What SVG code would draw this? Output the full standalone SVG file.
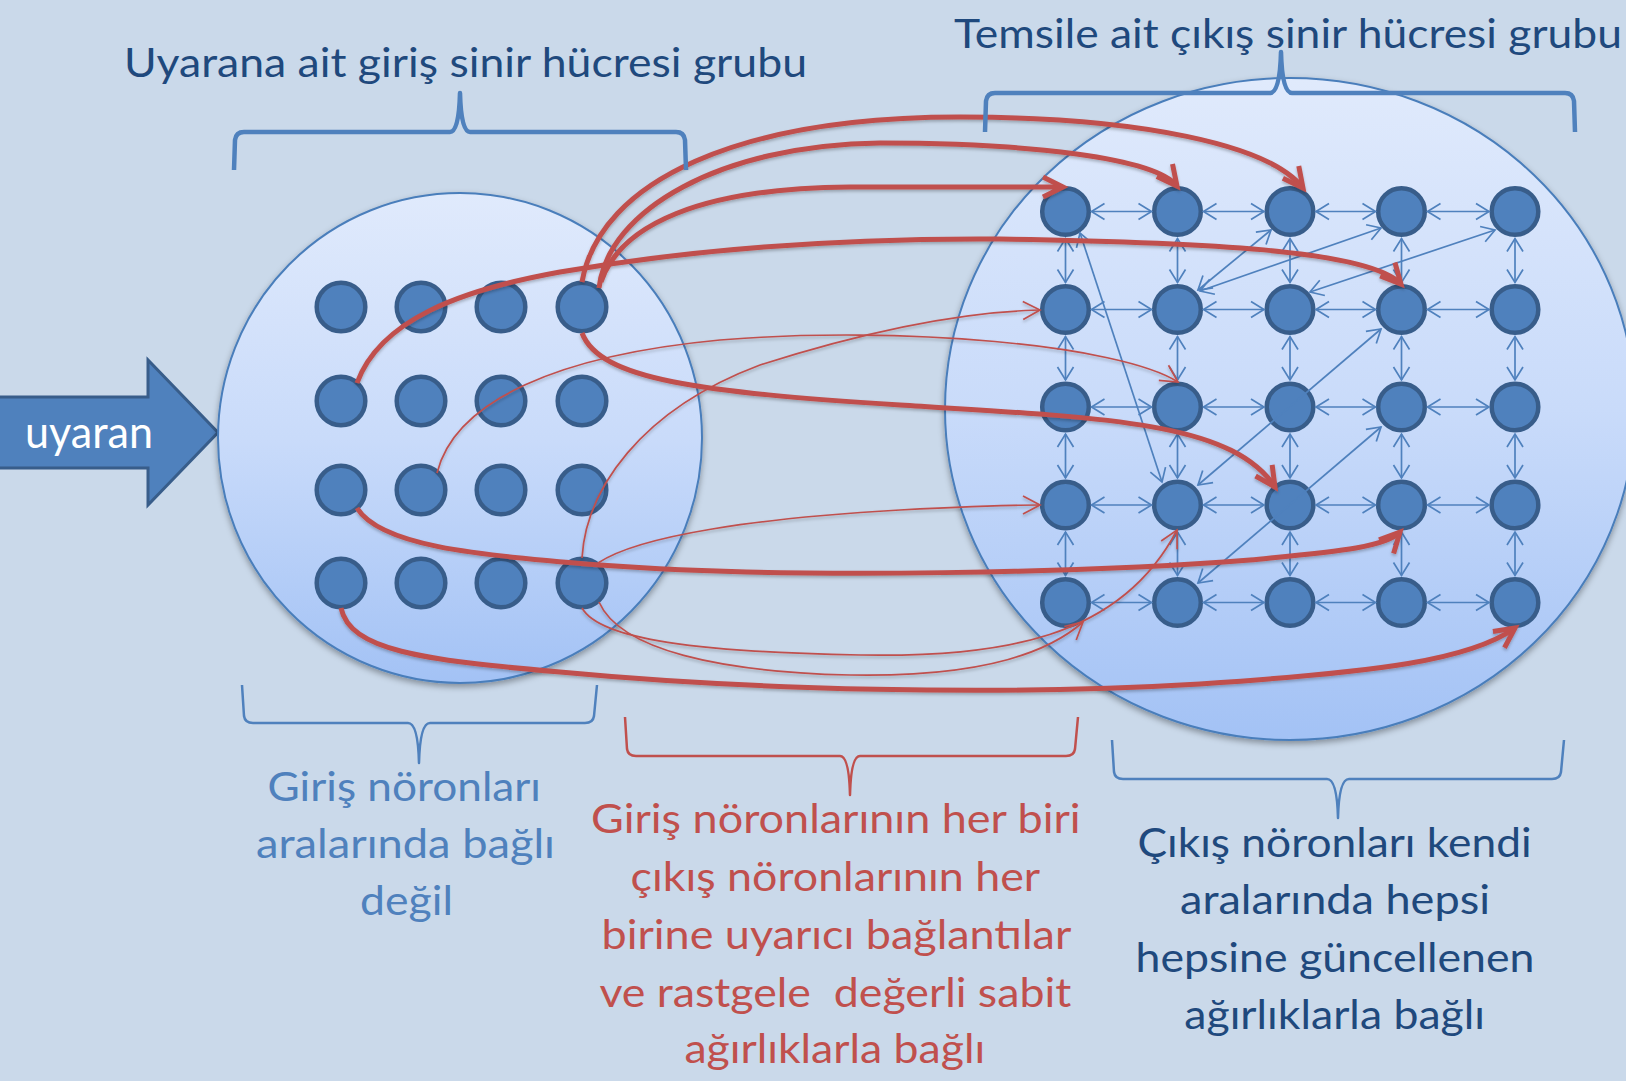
<svg xmlns="http://www.w3.org/2000/svg" width="1626" height="1081" viewBox="0 0 1626 1081">
  <style>
    .bg { fill: #cad9ea; }
    .pool { stroke: #4a7ebb; stroke-width: 2; filter: url(#softShadow); }
    .node { fill: #4f81bd; stroke: #385d8a; stroke-width: 4.5; }
    .grid { stroke: #4f81bd; stroke-width: 1.7; fill: none; marker-start: url(#headBlue); marker-end: url(#headBlue); }
    .thick { stroke: #c0504d; stroke-width: 5; fill: none; marker-end: url(#headRedThick); }
    .thin { stroke: #c0504d; stroke-width: 1.7; fill: none; marker-end: url(#headRedThin); }
    .brace-top { stroke: #4f81bd; stroke-width: 4.5; fill: none; stroke-linejoin: round; }
    .brace-low { stroke: #4f81bd; stroke-width: 2.5; fill: none; stroke-linejoin: round; }
    .brace-red { stroke: #c0504d; stroke-width: 2.5; fill: none; stroke-linejoin: round; }
    text { font-family: Lato, "Open Sans", "Noto Sans", sans-serif; }
    .title { fill: #1f497d; font-size: 41px; }
    .note { font-size: 40px; }
    .blue { fill: #4f81bd; }
    .red { fill: #c0504d; }
    .navy { fill: #1f497d; }
  </style>
  <defs>
    <linearGradient id="poolFill" x1="0" y1="0" x2="0" y2="1">
      <stop offset="0" stop-color="#e0eafc"/>
      <stop offset="0.5" stop-color="#c9dbfa"/>
      <stop offset="1" stop-color="#a3c2f5"/>
    </linearGradient>
    <filter id="softShadow" x="-10%" y="-10%" width="120%" height="125%">
      <feDropShadow dx="0" dy="3" stdDeviation="3" flood-color="#000" flood-opacity="0.35"/>
    </filter>
    <filter id="lineShadow" x="-5%" y="-5%" width="110%" height="115%">
      <feDropShadow dx="0" dy="2" stdDeviation="1.5" flood-color="#000" flood-opacity="0.25"/>
    </filter>
    <marker id="headBlue" markerUnits="userSpaceOnUse" orient="auto-start-reverse" overflow="visible" markerWidth="1" markerHeight="1" refX="0" refY="0">
      <path d="M-13,-8 L0,0 L-13,8" fill="none" stroke="#4f81bd" stroke-width="1.7"/>
    </marker>
    <marker id="headRedThick" markerUnits="userSpaceOnUse" orient="auto" overflow="visible" markerWidth="1" markerHeight="1" refX="0" refY="0">
      <path d="M-20,-10 L0,0 L-20,10" fill="none" stroke="#c0504d" stroke-width="5"/>
    </marker>
    <marker id="headRedThin" markerUnits="userSpaceOnUse" orient="auto" overflow="visible" markerWidth="1" markerHeight="1" refX="0" refY="0">
      <path d="M-17,-9 L0,0 L-17,9" fill="none" stroke="#c0504d" stroke-width="1.7"/>
    </marker>
  </defs>

  <rect class="bg" x="0" y="0" width="1626" height="1081"/>

  <!-- stimulus arrow -->
  <g id="stimulus">
    <polygon points="-5,397 148,397 148,360 218,432.5 148,505 148,468 -5,468" fill="#4f81bd" stroke="#385d8a" stroke-width="3"/>
    <text x="25" y="448" fill="#ffffff" font-size="44" textLength="128" lengthAdjust="spacingAndGlyphs">uyaran</text>
  </g>

  <!-- neuron pools -->
  <g id="input-pool">
    <ellipse class="pool" cx="460" cy="438" rx="242" ry="245" fill="url(#poolFill)"/>
  </g>
  <g id="output-pool">
    <ellipse class="pool" cx="1290" cy="409" rx="345" ry="331" fill="url(#poolFill)"/>
  </g>

  <!-- input neurons (4 x 4) -->
  <g id="in-r1c1"><circle class="node" cx="341" cy="307" r="24.3"/></g>
  <g id="in-r1c2"><circle class="node" cx="421" cy="307" r="24.3"/></g>
  <g id="in-r1c3"><circle class="node" cx="501" cy="307" r="24.3"/></g>
  <g id="in-r1c4"><circle class="node" cx="582" cy="307" r="24.3"/></g>
  <g id="in-r2c1"><circle class="node" cx="341" cy="401" r="24.3"/></g>
  <g id="in-r2c2"><circle class="node" cx="421" cy="401" r="24.3"/></g>
  <g id="in-r2c3"><circle class="node" cx="501" cy="401" r="24.3"/></g>
  <g id="in-r2c4"><circle class="node" cx="582" cy="401" r="24.3"/></g>
  <g id="in-r3c1"><circle class="node" cx="341" cy="490" r="24.3"/></g>
  <g id="in-r3c2"><circle class="node" cx="421" cy="490" r="24.3"/></g>
  <g id="in-r3c3"><circle class="node" cx="501" cy="490" r="24.3"/></g>
  <g id="in-r3c4"><circle class="node" cx="582" cy="490" r="24.3"/></g>
  <g id="in-r4c1"><circle class="node" cx="341" cy="583" r="24.3"/></g>
  <g id="in-r4c2"><circle class="node" cx="421" cy="583" r="24.3"/></g>
  <g id="in-r4c3"><circle class="node" cx="501" cy="583" r="24.3"/></g>
  <g id="in-r4c4"><circle class="node" cx="582" cy="583" r="24.3"/></g>

  <!-- output neurons (5 x 5) -->
  <g id="out-r1c1"><circle class="node" cx="1065.5" cy="211.5" r="23.3"/></g>
  <g id="out-r1c2"><circle class="node" cx="1177.5" cy="211.5" r="23.3"/></g>
  <g id="out-r1c3"><circle class="node" cx="1290" cy="211.5" r="23.3"/></g>
  <g id="out-r1c4"><circle class="node" cx="1401.5" cy="211.5" r="23.3"/></g>
  <g id="out-r1c5"><circle class="node" cx="1515" cy="211.5" r="23.3"/></g>
  <g id="out-r2c1"><circle class="node" cx="1065.5" cy="309.5" r="23.3"/></g>
  <g id="out-r2c2"><circle class="node" cx="1177.5" cy="309.5" r="23.3"/></g>
  <g id="out-r2c3"><circle class="node" cx="1290" cy="309.5" r="23.3"/></g>
  <g id="out-r2c4"><circle class="node" cx="1401.5" cy="309.5" r="23.3"/></g>
  <g id="out-r2c5"><circle class="node" cx="1515" cy="309.5" r="23.3"/></g>
  <g id="out-r3c1"><circle class="node" cx="1065.5" cy="407" r="23.3"/></g>
  <g id="out-r3c2"><circle class="node" cx="1177.5" cy="407" r="23.3"/></g>
  <g id="out-r3c3"><circle class="node" cx="1290" cy="407" r="23.3"/></g>
  <g id="out-r3c4"><circle class="node" cx="1401.5" cy="407" r="23.3"/></g>
  <g id="out-r3c5"><circle class="node" cx="1515" cy="407" r="23.3"/></g>
  <g id="out-r4c1"><circle class="node" cx="1065.5" cy="505" r="23.3"/></g>
  <g id="out-r4c2"><circle class="node" cx="1177.5" cy="505" r="23.3"/></g>
  <g id="out-r4c3"><circle class="node" cx="1290" cy="505" r="23.3"/></g>
  <g id="out-r4c4"><circle class="node" cx="1401.5" cy="505" r="23.3"/></g>
  <g id="out-r4c5"><circle class="node" cx="1515" cy="505" r="23.3"/></g>
  <g id="out-r5c1"><circle class="node" cx="1065.5" cy="602.5" r="23.3"/></g>
  <g id="out-r5c2"><circle class="node" cx="1177.5" cy="602.5" r="23.3"/></g>
  <g id="out-r5c3"><circle class="node" cx="1290" cy="602.5" r="23.3"/></g>
  <g id="out-r5c4"><circle class="node" cx="1401.5" cy="602.5" r="23.3"/></g>
  <g id="out-r5c5"><circle class="node" cx="1515" cy="602.5" r="23.3"/></g>

  <g id="connectors">
    <!-- lateral links between output neurons: rows -->
    <g id="lateral-rows">
      <line class="grid" x1="1091.5" y1="211.5" x2="1151.5" y2="211.5"/>
      <line class="grid" x1="1203.5" y1="211.5" x2="1264" y2="211.5"/>
      <line class="grid" x1="1316" y1="211.5" x2="1375.5" y2="211.5"/>
      <line class="grid" x1="1427.5" y1="211.5" x2="1489" y2="211.5"/>
      <line class="grid" x1="1091.5" y1="309.5" x2="1151.5" y2="309.5"/>
      <line class="grid" x1="1203.5" y1="309.5" x2="1264" y2="309.5"/>
      <line class="grid" x1="1316" y1="309.5" x2="1375.5" y2="309.5"/>
      <line class="grid" x1="1427.5" y1="309.5" x2="1489" y2="309.5"/>
      <line class="grid" x1="1091.5" y1="407" x2="1151.5" y2="407"/>
      <line class="grid" x1="1203.5" y1="407" x2="1264" y2="407"/>
      <line class="grid" x1="1316" y1="407" x2="1375.5" y2="407"/>
      <line class="grid" x1="1427.5" y1="407" x2="1489" y2="407"/>
      <line class="grid" x1="1091.5" y1="505" x2="1151.5" y2="505"/>
      <line class="grid" x1="1203.5" y1="505" x2="1264" y2="505"/>
      <line class="grid" x1="1316" y1="505" x2="1375.5" y2="505"/>
      <line class="grid" x1="1427.5" y1="505" x2="1489" y2="505"/>
      <line class="grid" x1="1091.5" y1="602.5" x2="1151.5" y2="602.5"/>
      <line class="grid" x1="1203.5" y1="602.5" x2="1264" y2="602.5"/>
      <line class="grid" x1="1316" y1="602.5" x2="1375.5" y2="602.5"/>
      <line class="grid" x1="1427.5" y1="602.5" x2="1489" y2="602.5"/>
    </g>
    <!-- lateral links between output neurons: columns -->
    <g id="lateral-cols">
      <line class="grid" x1="1065.5" y1="238.5" x2="1065.5" y2="282.5"/>
      <line class="grid" x1="1065.5" y1="336.5" x2="1065.5" y2="380"/>
      <line class="grid" x1="1065.5" y1="434" x2="1065.5" y2="478"/>
      <line class="grid" x1="1065.5" y1="532" x2="1065.5" y2="575.5"/>
      <line class="grid" x1="1177.5" y1="238.5" x2="1177.5" y2="282.5"/>
      <line class="grid" x1="1177.5" y1="336.5" x2="1177.5" y2="380"/>
      <line class="grid" x1="1177.5" y1="434" x2="1177.5" y2="478"/>
      <line class="grid" x1="1177.5" y1="532" x2="1177.5" y2="575.5"/>
      <line class="grid" x1="1290" y1="238.5" x2="1290" y2="282.5"/>
      <line class="grid" x1="1290" y1="336.5" x2="1290" y2="380"/>
      <line class="grid" x1="1290" y1="434" x2="1290" y2="478"/>
      <line class="grid" x1="1290" y1="532" x2="1290" y2="575.5"/>
      <line class="grid" x1="1401.5" y1="238.5" x2="1401.5" y2="282.5"/>
      <line class="grid" x1="1401.5" y1="336.5" x2="1401.5" y2="380"/>
      <line class="grid" x1="1401.5" y1="434" x2="1401.5" y2="478"/>
      <line class="grid" x1="1401.5" y1="532" x2="1401.5" y2="575.5"/>
      <line class="grid" x1="1515" y1="238.5" x2="1515" y2="282.5"/>
      <line class="grid" x1="1515" y1="336.5" x2="1515" y2="380"/>
      <line class="grid" x1="1515" y1="434" x2="1515" y2="478"/>
      <line class="grid" x1="1515" y1="532" x2="1515" y2="575.5"/>
    </g>
    <!-- lateral links between output neurons: diagonals -->
    <g id="lateral-diagonals">
      <line class="grid" x1="1080" y1="233" x2="1162" y2="482"/>
      <line class="grid" x1="1271" y1="230" x2="1198" y2="290"/>
      <line class="grid" x1="1381" y1="228" x2="1200" y2="291"/>
      <line class="grid" x1="1495" y1="230" x2="1310" y2="292"/>
      <line class="grid" x1="1381" y1="329" x2="1198" y2="485"/>
      <line class="grid" x1="1381" y1="427" x2="1198" y2="583"/>
    </g>
    <!-- fixed random-weight excitatory links, input to output -->
    <g id="feedforward" filter="url(#lineShadow)">
      <path class="thick" d="M582,282 C600,180 740,117 960,117 C1140,117 1270,145 1303,188"/>
      <path class="thick" d="M599,288 C608,210 720,145 880,143 C1030,143 1155,158 1177,186"/>
      <path class="thick" d="M601,282 C620,225 700,188 850,187 L1063,187"/>
      <path class="thick" d="M357,383 C380,320 460,290 560,272 C700,248 850,238 1000,239 C1200,242 1370,250 1401,284"/>
      <path class="thick" d="M582,333 C600,380 700,392 900,405 C1100,418 1230,420 1275,487"/>
      <path class="thick" d="M357,508 C380,545 470,555 600,565 C800,580 1100,572 1250,560 C1330,552 1385,548 1400,532"/>
      <path class="thick" d="M341,608 C350,650 420,660 560,672 C750,690 1000,696 1200,684 C1380,672 1470,660 1515,628"/>
      <path class="thin" d="M582,558 C586,490 640,410 760,365 C870,330 960,312 1040,310"/>
      <path class="thin" d="M437,473 C455,400 560,355 720,340 C900,325 1120,345 1178,382"/>
      <path class="thin" d="M598,563 C640,535 760,518 900,510 C960,507 1010,505 1040,505"/>
      <path class="thin" d="M582,608 C600,640 700,652 860,655 C1000,657 1120,640 1177,530"/>
      <path class="thin" d="M599,602 C620,650 720,672 850,675 C960,677 1040,660 1083,622"/>
    </g>
  </g>

  <!-- braces -->
  <g id="braces">
    <path class="brace-top" d="M234,170 L235,140 Q236,132 244,132 L450,132 Q459,132 460,93 Q461,132 470,132 L676,132 Q684,132 685,140 L686,170"/>
    <path class="brace-top" d="M985,132 L986,101 Q987,93 995,93 L1270,93 Q1280,93 1281,52 Q1282,93 1292,93 L1565,93 Q1573,93 1574,101 L1575,132"/>
    <path class="brace-low" d="M242,685 L244,716 Q245,723 253,723 L408,723 Q418,723 419,763 Q420,723 430,723 L585,723 Q593,723 594,716 L597,685"/>
    <path class="brace-red" d="M625,717 L627,749 Q628,756 636,756 L840,756 Q849,756 850,795 Q851,756 860,756 L1066,756 Q1074,756 1075,749 L1078,717"/>
    <path class="brace-low" d="M1112,740 L1114,772 Q1115,779 1123,779 L1327,779 Q1337,779 1338,818 Q1339,779 1349,779 L1552,779 Q1560,779 1561,772 L1564,740"/>
  </g>

  <!-- labels -->
  <g id="labels">
    <text class="title" x="124" y="77" textLength="683" lengthAdjust="spacingAndGlyphs">Uyarana ait giriş sinir hücresi grubu</text>
    <text class="title" x="954" y="48" textLength="668" lengthAdjust="spacingAndGlyphs">Temsile ait çıkış sinir hücresi grubu</text>

    <text class="note blue" x="267.5" y="801" textLength="273.5" lengthAdjust="spacingAndGlyphs">Giriş nöronları</text>
    <text class="note blue" x="256" y="858" textLength="299" lengthAdjust="spacingAndGlyphs">aralarında bağlı</text>
    <text class="note blue" x="360" y="915" textLength="93" lengthAdjust="spacingAndGlyphs">değil</text>

    <text class="note red" x="591" y="833" textLength="489.6" lengthAdjust="spacingAndGlyphs">Giriş nöronlarının her biri</text>
    <text class="note red" x="630.5" y="891" textLength="409.6" lengthAdjust="spacingAndGlyphs">çıkış nöronlarının her</text>
    <text class="note red" x="601.5" y="949" textLength="469.8" lengthAdjust="spacingAndGlyphs">birine uyarıcı bağlantılar</text>
    <text class="note red" x="599.4" y="1006.5" textLength="471.8" lengthAdjust="spacingAndGlyphs" xml:space="preserve">ve rastgele  değerli sabit</text>
    <text class="note red" x="684.4" y="1063" textLength="300.8" lengthAdjust="spacingAndGlyphs">ağırlıklarla bağlı</text>

    <text class="note navy" x="1137.6" y="856.5" textLength="394" lengthAdjust="spacingAndGlyphs">Çıkış nöronları kendi</text>
    <text class="note navy" x="1180" y="913.5" textLength="310" lengthAdjust="spacingAndGlyphs">aralarında hepsi</text>
    <text class="note navy" x="1135.5" y="971.5" textLength="399" lengthAdjust="spacingAndGlyphs">hepsine güncellenen</text>
    <text class="note navy" x="1184.3" y="1028.5" textLength="300.7" lengthAdjust="spacingAndGlyphs">ağırlıklarla bağlı</text>
  </g>
</svg>
